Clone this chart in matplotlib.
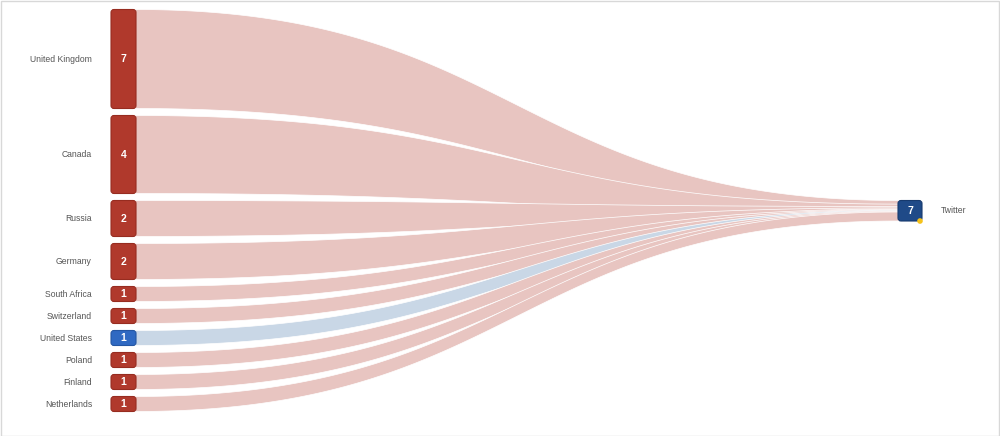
import numpy as np
import matplotlib.pyplot as plt
from matplotlib.patches import FancyBboxPatch, Polygon, Circle, Rectangle

# data
sources = ["United Kingdom", "Canada", "Russia", "Germany", "South Africa",
           "Switzerland", "United States", "Poland", "Finland", "Netherlands"]
values = [7, 4, 2, 2, 1, 1, 1, 1, 1, 1]
target = "Twitter"
target_value = 7
highlight = "United States"

# colours
red_node = "#b0392c"
red_edge = "#972c20"
red_link = "#e8c5c1"
blue_node = "#2f69c2"
blue_edge = "#2456a3"
blue_link = "#c9d7e6"
navy_node = "#1f4a88"
label_col = "#555555"

plt.rcParams['font.family'] = ['Liberation Sans', 'DejaVu Sans']

fig = plt.figure(figsize=(10, 4.36), dpi=100)
ax = fig.add_axes([0, 0, 1, 1])
ax.set_xlim(0, 1000)
ax.set_ylim(436, 0)
ax.axis("off")

# layout (pixel space)
left_x0, left_x1 = 111, 136
right_x0, right_x1 = 898, 922
top, gap = 9.5, 7
heights = [min(21 * v - 6, 99) for v in values]
tops = []
y = top
for h in heights:
    tops.append(y)
    y += h + gap
left_c = [t + h / 2 for t, h in zip(tops, heights)]

right_top, right_h = 200.5, 20.5
end_w = 9.0  # link width where it meets the target
mids = np.cumsum(heights) - np.array(heights) / 2
a, b = right_top + end_w / 2, right_top + right_h - end_w / 2
right_c = a + (mids - mids[0]) / (mids[-1] - mids[0]) * (b - a)


def band(xa, ca, wa, xb, cb, wb, n=200):
    t = np.linspace(0, 1, n)
    xm = (xa + xb) / 2
    bx = (1 - t) ** 3 * xa + 3 * (1 - t) ** 2 * t * xm + 3 * (1 - t) * t ** 2 * xm + t ** 3 * xb
    s = 3 * t ** 2 - 2 * t ** 3
    c = ca + (cb - ca) * s
    w = wa + (wb - wa) * s
    return np.vstack([np.column_stack([bx, c - w / 2]),
                      np.column_stack([bx[::-1], (c + w / 2)[::-1]])])


# links, drawn top to bottom so each one overlaps the previous
for i, (name, h) in enumerate(zip(sources, heights)):
    col = blue_link if name == highlight else red_link
    pts = band(left_x1 - 1, left_c[i], h, right_x0 + 1, right_c[i], end_w)
    ax.add_patch(Polygon(pts, closed=True, facecolor=col, edgecolor="white",
                         lw=0.5, zorder=1 + i * 0.01))

# source nodes
for name, v, h, ty in zip(sources, values, heights, tops):
    fc, ec = (blue_node, blue_edge) if name == highlight else (red_node, red_edge)
    ax.add_patch(FancyBboxPatch((left_x0, ty), left_x1 - left_x0, h,
                                boxstyle="round,pad=0,rounding_size=3",
                                facecolor=fc, edgecolor=ec, lw=0.8, zorder=3))
    cy = ty + h / 2
    ax.text((left_x0 + left_x1) / 2, cy, str(v), color="white", fontsize=7.5,
            fontweight="bold", ha="center", va="center", zorder=4)
    ax.text(92, cy, name, color=label_col, fontsize=6.2, ha="right", va="center")

# target node
ax.add_patch(FancyBboxPatch((right_x0, right_top), right_x1 - right_x0, right_h,
                            boxstyle="round,pad=0,rounding_size=3",
                            facecolor=navy_node, edgecolor="#173a6e", lw=0.8, zorder=3))
ax.text((right_x0 + right_x1) / 2, right_top + right_h / 2, str(target_value),
        color="white", fontsize=7.5, fontweight="bold", ha="center", va="center", zorder=4)
ax.add_patch(Circle((right_x1 - 2, right_top + right_h), 2.8, facecolor="#f5c21b",
                    edgecolor="none", zorder=5))
ax.text(941, right_top + right_h / 2, target, color=label_col, fontsize=6.2,
        ha="left", va="center")

# outer border
fig.patches.append(Rectangle((0.0005, 0.001), 0.998, 0.997, transform=fig.transFigure,
                             fill=False, edgecolor="#d8d8d8", lw=1))

fig.savefig("out.png", dpi=100)
